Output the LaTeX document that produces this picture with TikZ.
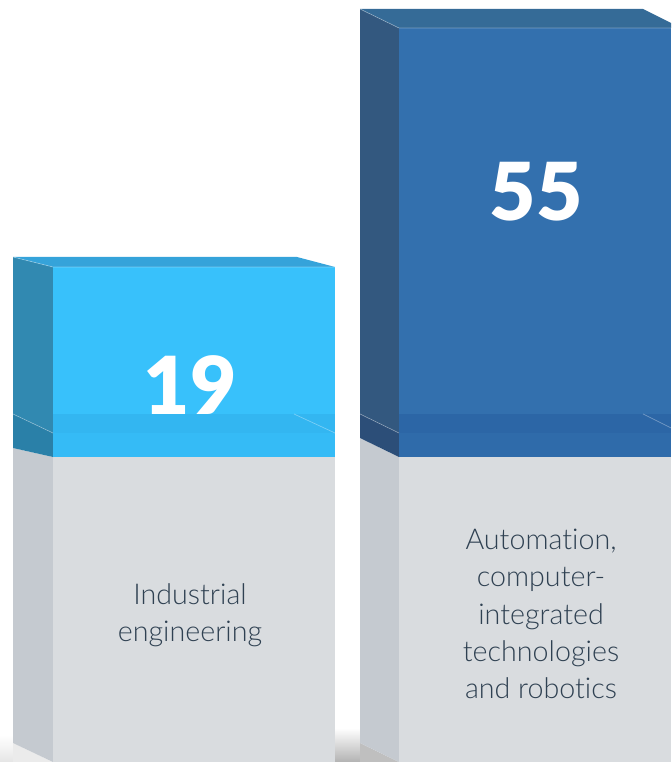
\documentclass[tikz,border=0pt]{standalone}
\usepackage{fontspec}
\setmainfont{Lato}[Ligatures=NoCommon]
\newfontfamily\fieldfont{Lato Light}[Ligatures=NoCommon]
\newfontfamily\valuefont{Lato Black}
\usepackage{tikz}
\usetikzlibrary{positioning, calc}
\usepackage{xcolor}

\definecolor{greyfront}{HTML}{D9DCDF}
\definecolor{greyside}{HTML}{C5CAD0}
\definecolor{lblfront}{HTML}{38C1FB}
\definecolor{lblband}{HTML}{33B6F1}
\definecolor{lbllow}{HTML}{35BBF6}
\definecolor{lblside}{HTML}{3189B1}
\definecolor{lblsidelow}{HTML}{2A80A8}
\definecolor{lbltop}{HTML}{35A3DA}
\definecolor{dbfront}{HTML}{3370AE}
\definecolor{dbband}{HTML}{2C66A6}
\definecolor{dblow}{HTML}{2F6BAA}
\definecolor{dbside}{HTML}{33587F}
\definecolor{dbsidelow}{HTML}{2C4E78}
\definecolor{dbtop}{HTML}{356B97}
\definecolor{labeltext}{HTML}{2F4152}

\begin{document}
\begin{tikzpicture}[
    x=0.75pt, y=-0.75pt,
    value/.style={text=white, font=\valuefont\fontsize{60}{60}\selectfont, inner sep=0pt},
    field/.style={text=labeltext, align=center, inner sep=0pt,
                  font=\fieldfont\fontsize{21.5}{28}\selectfont},
    edge line/.style={white, opacity=0.35, line width=0.5pt}
]
    \useasboundingbox (0,0) rectangle (671,762);

    % Shadows at the foot of the bars
    \shade[top color=white, bottom color=black!30] (335,728) rectangle (360,762);
    \fill[black!25] (360,743) -- (399,762) -- (360,762) -- cycle;
    \shade[top color=white, bottom color=black!10] (0,735) rectangle (13,762);
    \fill[black!8] (13,743) -- (53,762) -- (13,762) -- cycle;

    % Bar 1: Industrial engineering
    \fill[greyside] (13,448) -- (53,457) -- (53,762) -- (13,743) -- cycle;
    \fill[greyfront] (53,457) rectangle (335,762);
    \fill[lblside] (13,257) -- (53,267) -- (53,433) -- (13,414) -- cycle;
    \fill[lblsidelow] (13,414) -- (53,433) -- (53,457) -- (13,448) -- cycle;
    \fill[lblfront] (53,267) rectangle (335,457);
    \fill[lblband] (53,414) rectangle (335,433);
    \fill[lbllow] (53,433) rectangle (335,457);
    \fill[lbltop] (13,257) -- (297,257) -- (335,267) -- (53,267) -- cycle;
    \draw[edge line] (13,414) -- (53,433) (294,414) -- (335,433);
    \draw[edge line] (13,257) -- (53,267) -- (335,267);

    % Bar 2: Automation
    \fill[greyside] (360,438) -- (399,457) -- (399,762) -- (360,743) -- cycle;
    \fill[greyfront] (399,457) rectangle (671,762);
    \fill[dbside] (360,9) -- (399,28) -- (399,433) -- (360,414) -- cycle;
    \fill[dbsidelow] (360,414) -- (399,433) -- (399,457) -- (360,438) -- cycle;
    \fill[dbfront] (399,28) rectangle (671,457);
    \fill[dbband] (399,414) rectangle (671,433);
    \fill[dblow] (399,433) rectangle (671,457);
    \fill[dbtop] (360,9) -- (643,9) -- (671,23) -- (671,28) -- (399,28) -- cycle;
    \draw[edge line] (360,414) -- (399,433) (643,414) -- (671,428);
    \draw[edge line] (360,9) -- (399,28) -- (671,28);

    % Values and field names
    \node[value] (v1) at (190,385) {19};
    \node[value] (v2) at (536,192) {55};
    \node[field] (f1) at (190,615) {Industrial\\engineering};
    \node[field] (f2) at (541,614) {Automation,\\computer-\\integrated\\technologies\\and robotics};
\end{tikzpicture}
\end{document}
